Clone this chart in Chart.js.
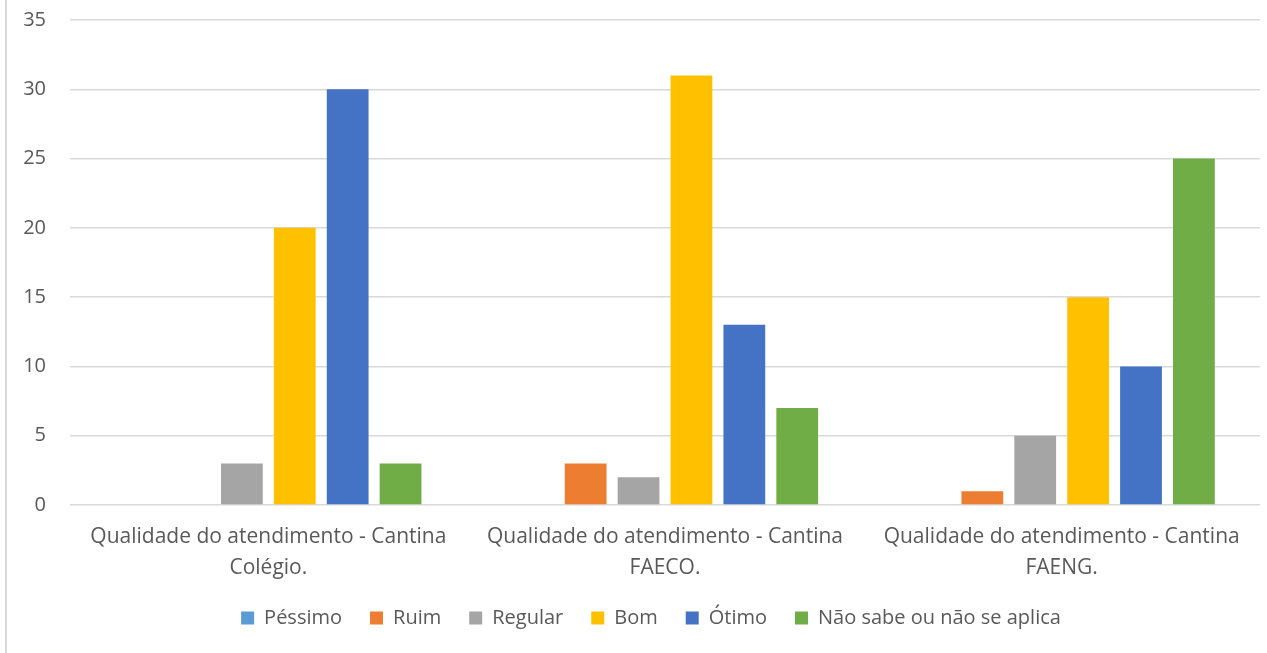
<!DOCTYPE html>
<html>
<head>
<meta charset="utf-8">
<script src="https://cdn.jsdelivr.net/npm/chart.js@4.4.1/dist/chart.umd.min.js"></script>
<style>
  html, body { margin: 0; padding: 0; background: #fff; }
  #wrap { position: relative; width: 1267px; height: 653px; overflow: hidden; }
  #edge { position: absolute; left: 5px; top: 0; width: 2px; height: 653px; background: #d9d9d9; z-index: 1; }
  #chart { position: absolute; left: 0; top: -16px; }
</style>
</head>
<body>
<div id="wrap">
  <div id="edge"></div>
  <canvas id="chart" width="1267" height="669"></canvas>
</div>
<script>
// ===== DATA =====
const categories = [
    ['Qualidade do atendimento - Cantina', 'Colégio.'],
    ['Qualidade do atendimento - Cantina', 'FAECO.'],
    ['Qualidade do atendimento - Cantina', 'FAENG.']
];
const seriesNames = ['Péssimo', 'Ruim', 'Regular', 'Bom', 'Ótimo', 'Não sabe ou não se aplica'];
const pessimo = [0, 0, 0];
const ruim    = [0, 3, 1];
const regular = [3, 2, 5];
const bom     = [20, 31, 15];
const otimo   = [30, 13, 10];
const naoSabe = [3, 7, 25];
const seriesColors = ['#5B9BD5', '#ED7D31', '#A5A5A5', '#FFC000', '#4472C4', '#70AD47'];

const allValues = [pessimo, ruim, regular, bom, otimo, naoSabe];
const textColor = '#595959';
const fontFamily = "'Open Sans', 'Liberation Sans', sans-serif";

const datasets = seriesNames.map((name, i) => ({
    label: name,
    data: allValues[i],
    backgroundColor: seriesColors[i],
    borderWidth: 0,
    categoryPercentage: 0.8,
    barPercentage: 0.79
}));

// nudge the legend a bit right, it's centred on the plot in the original
const legendShift = {
    id: 'legendShift',
    afterLayout(chart) {
        if (!chart.legend) return;
        chart.legend.left += 16;
        chart.legend.right += 16;
    }
};

new Chart(document.getElementById('chart'), {
    type: 'bar',
    data: { labels: categories, datasets: datasets },
    plugins: [legendShift],
    options: {
        responsive: false,
        animation: false,
        layout: { padding: { left: 10, right: 7, top: 0, bottom: 15 } },
        plugins: {
            tooltip: { enabled: false },
            legend: {
                position: 'bottom',
                labels: {
                    color: textColor,
                    font: { family: fontFamily, size: 20 },
                    boxWidth: 13,
                    boxHeight: 13,
                    padding: 28
                }
            }
        },
        scales: {
            x: {
                grid: { display: false },
                border: { display: false },
                ticks: {
                    color: textColor,
                    font: { family: fontFamily, size: 21, lineHeight: 1.45 },
                    maxRotation: 0,
                    padding: 9
                },
                afterFit: s => { s.height = 75; }
            },
            y: {
                min: 0,
                max: 35,
                ticks: {
                    stepSize: 5,
                    color: textColor,
                    font: { family: fontFamily, size: 20 },
                    padding: 24
                },
                grid: { color: '#d9d9d9', lineWidth: 1.5, drawTicks: false },
                border: { display: false },
                afterFit: s => { s.width = 60; }
            }
        }
    }
});
</script>
</body>
</html>
